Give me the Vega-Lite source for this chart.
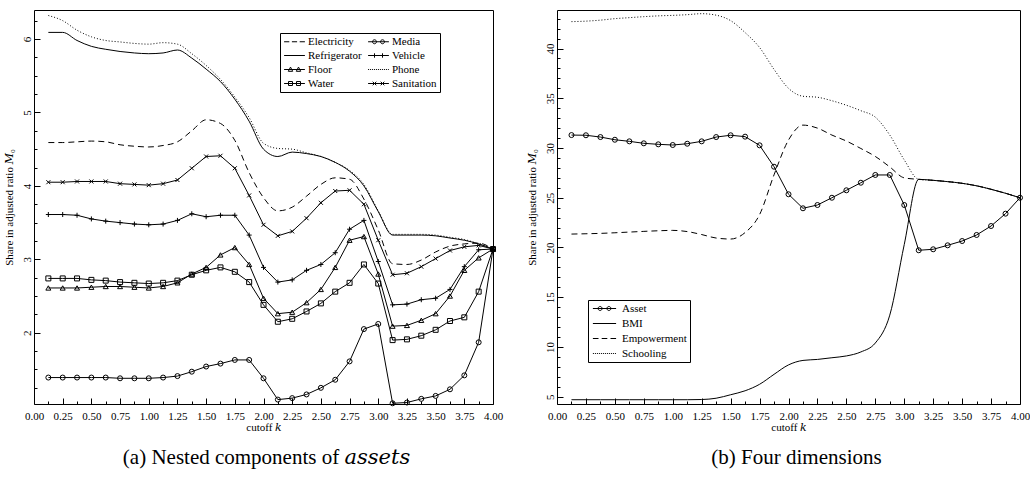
{
  "$schema": "https://vega.github.io/schema/vega-lite/v6.json",
  "background": "white",
  "padding": {"left": 2, "top": 9, "right": 0, "bottom": 5},
  "spacing": 64,
  "bounds": "flush",
  "resolve": {"scale": {"strokeDash": "independent", "shape": "independent"}},
  "config": {
    "font": "'Liberation Serif', 'Times New Roman', 'DejaVu Serif', serif",
    "view": {"stroke": "black", "strokeWidth": 1, "fill": "white"},
    "axis": {
      "domain": false, "grid": false, "ticks": true,
      "tickColor": "black", "tickWidth": 1,
      "labelFont": "'Liberation Serif', 'Times New Roman', 'DejaVu Serif', serif", "labelFontSize": 11, "labelColor": "black",
      "titleFont": "'Liberation Serif', 'Times New Roman', 'DejaVu Serif', serif", "titleFontSize": 11, "titleFontWeight": "normal", "titleColor": "black",
      "labelOverlap": false, "labelFlush": false
    },
    "legend": {
      "title": null, "orient": "none",
      "strokeColor": "black", "fillColor": "white", "padding": 3,
      "labelFont": "'Liberation Serif', 'Times New Roman', 'DejaVu Serif', serif", "labelColor": "black", "labelLimit": 0,
      "symbolSize": 64, "symbolStrokeWidth": 1, "symbolStrokeColor": "black", "symbolFillColor": "transparent"
    },
    "title": {"font": "'Liberation Serif', 'Times New Roman', 'DejaVu Serif', serif", "fontSize": 21, "fontWeight": "normal", "color": "black", "orient": "bottom", "offset": 15}
  },
  "datasets": {
    "assets": [
      {"k": 0.125, "Electricity": 4.59, "Refrigerator": 6.09, "Floor": 2.61, "Water": 2.74, "Media": 1.39, "Vehicle": 3.61, "Phone": 6.32, "Sanitation": 4.05},
      {"k": 0.25, "Electricity": 4.59, "Refrigerator": 6.09, "Floor": 2.61, "Water": 2.74, "Media": 1.39, "Vehicle": 3.61, "Phone": 6.25, "Sanitation": 4.05},
      {"k": 0.375, "Electricity": 4.60, "Refrigerator": 5.98, "Floor": 2.61, "Water": 2.74, "Media": 1.39, "Vehicle": 3.60, "Phone": 6.12, "Sanitation": 4.06},
      {"k": 0.5, "Electricity": 4.61, "Refrigerator": 5.90, "Floor": 2.62, "Water": 2.72, "Media": 1.39, "Vehicle": 3.55, "Phone": 6.03, "Sanitation": 4.06},
      {"k": 0.625, "Electricity": 4.60, "Refrigerator": 5.86, "Floor": 2.63, "Water": 2.71, "Media": 1.39, "Vehicle": 3.52, "Phone": 5.98, "Sanitation": 4.06},
      {"k": 0.75, "Electricity": 4.56, "Refrigerator": 5.83, "Floor": 2.63, "Water": 2.69, "Media": 1.38, "Vehicle": 3.50, "Phone": 5.96, "Sanitation": 4.03},
      {"k": 0.875, "Electricity": 4.54, "Refrigerator": 5.81, "Floor": 2.62, "Water": 2.68, "Media": 1.38, "Vehicle": 3.48, "Phone": 5.94, "Sanitation": 4.02},
      {"k": 1.0, "Electricity": 4.53, "Refrigerator": 5.80, "Floor": 2.61, "Water": 2.67, "Media": 1.38, "Vehicle": 3.47, "Phone": 5.93, "Sanitation": 4.01},
      {"k": 1.125, "Electricity": 4.55, "Refrigerator": 5.81, "Floor": 2.63, "Water": 2.68, "Media": 1.39, "Vehicle": 3.48, "Phone": 5.95, "Sanitation": 4.03},
      {"k": 1.25, "Electricity": 4.60, "Refrigerator": 5.85, "Floor": 2.68, "Water": 2.71, "Media": 1.41, "Vehicle": 3.53, "Phone": 5.93, "Sanitation": 4.08},
      {"k": 1.375, "Electricity": 4.75, "Refrigerator": 5.74, "Floor": 2.80, "Water": 2.79, "Media": 1.47, "Vehicle": 3.62, "Phone": 5.80, "Sanitation": 4.24},
      {"k": 1.5, "Electricity": 4.90, "Refrigerator": 5.59, "Floor": 2.89, "Water": 2.85, "Media": 1.54, "Vehicle": 3.58, "Phone": 5.64, "Sanitation": 4.40},
      {"k": 1.625, "Electricity": 4.85, "Refrigerator": 5.42, "Floor": 3.06, "Water": 2.89, "Media": 1.58, "Vehicle": 3.60, "Phone": 5.45, "Sanitation": 4.41},
      {"k": 1.75, "Electricity": 4.62, "Refrigerator": 5.18, "Floor": 3.16, "Water": 2.83, "Media": 1.63, "Vehicle": 3.60, "Phone": 5.21, "Sanitation": 4.24},
      {"k": 1.875, "Electricity": 4.18, "Refrigerator": 4.88, "Floor": 2.93, "Water": 2.69, "Media": 1.63, "Vehicle": 3.33, "Phone": 4.93, "Sanitation": 3.87},
      {"k": 2.0, "Electricity": 3.84, "Refrigerator": 4.50, "Floor": 2.47, "Water": 2.38, "Media": 1.38, "Vehicle": 2.89, "Phone": 4.58, "Sanitation": 3.47},
      {"k": 2.125, "Electricity": 3.66, "Refrigerator": 4.40, "Floor": 2.26, "Water": 2.15, "Media": 1.09, "Vehicle": 2.69, "Phone": 4.51, "Sanitation": 3.32},
      {"k": 2.25, "Electricity": 3.71, "Refrigerator": 4.46, "Floor": 2.28, "Water": 2.19, "Media": 1.11, "Vehicle": 2.72, "Phone": 4.50, "Sanitation": 3.38},
      {"k": 2.375, "Electricity": 3.86, "Refrigerator": 4.44, "Floor": 2.41, "Water": 2.29, "Media": 1.16, "Vehicle": 2.85, "Phone": 4.45, "Sanitation": 3.56},
      {"k": 2.5, "Electricity": 4.02, "Refrigerator": 4.40, "Floor": 2.59, "Water": 2.40, "Media": 1.25, "Vehicle": 2.93, "Phone": 4.40, "Sanitation": 3.77},
      {"k": 2.625, "Electricity": 4.11, "Refrigerator": 4.32, "Floor": 2.89, "Water": 2.56, "Media": 1.36, "Vehicle": 3.09, "Phone": 4.32, "Sanitation": 3.93},
      {"k": 2.75, "Electricity": 4.09, "Refrigerator": 4.20, "Floor": 3.26, "Water": 2.68, "Media": 1.61, "Vehicle": 3.41, "Phone": 4.21, "Sanitation": 3.94},
      {"k": 2.875, "Electricity": 3.82, "Refrigerator": 4.00, "Floor": 3.31, "Water": 2.93, "Media": 2.05, "Vehicle": 3.53, "Phone": 4.02, "Sanitation": 3.75},
      {"k": 3.0, "Electricity": 3.40, "Refrigerator": 3.65, "Floor": 2.80, "Water": 2.67, "Media": 2.12, "Vehicle": 2.97, "Phone": 3.66, "Sanitation": 3.26},
      {"k": 3.125, "Electricity": 2.94, "Refrigerator": 3.33, "Floor": 2.09, "Water": 1.90, "Media": 1.04, "Vehicle": 2.38, "Phone": 3.34, "Sanitation": 2.79},
      {"k": 3.25, "Electricity": 2.93, "Refrigerator": 3.33, "Floor": 2.10, "Water": 1.91, "Media": 1.05, "Vehicle": 2.39, "Phone": 3.34, "Sanitation": 2.81},
      {"k": 3.375, "Electricity": 2.99, "Refrigerator": 3.33, "Floor": 2.17, "Water": 1.96, "Media": 1.10, "Vehicle": 2.45, "Phone": 3.34, "Sanitation": 2.90},
      {"k": 3.5, "Electricity": 3.10, "Refrigerator": 3.32, "Floor": 2.26, "Water": 2.04, "Media": 1.14, "Vehicle": 2.47, "Phone": 3.33, "Sanitation": 3.01},
      {"k": 3.625, "Electricity": 3.18, "Refrigerator": 3.29, "Floor": 2.50, "Water": 2.16, "Media": 1.23, "Vehicle": 2.59, "Phone": 3.30, "Sanitation": 3.12},
      {"k": 3.75, "Electricity": 3.21, "Refrigerator": 3.26, "Floor": 2.85, "Water": 2.21, "Media": 1.42, "Vehicle": 2.90, "Phone": 3.27, "Sanitation": 3.17},
      {"k": 3.875, "Electricity": 3.22, "Refrigerator": 3.21, "Floor": 3.02, "Water": 2.56, "Media": 1.87, "Vehicle": 3.13, "Phone": 3.21, "Sanitation": 3.19},
      {"k": 4.0, "Electricity": 3.14, "Refrigerator": 3.14, "Floor": 3.14, "Water": 3.14, "Media": 3.14, "Vehicle": 3.14, "Phone": 3.14, "Sanitation": 3.14}
    ],
    "dims": [
      {"k": 0.125, "Asset": 31.3, "BMI": 4.7, "Empowerment": 21.35, "Schooling": 42.7},
      {"k": 0.25, "Asset": 31.28, "BMI": 4.7, "Empowerment": 21.38, "Schooling": 42.75},
      {"k": 0.375, "Asset": 31.1, "BMI": 4.7, "Empowerment": 21.42, "Schooling": 42.85},
      {"k": 0.5, "Asset": 30.83, "BMI": 4.7, "Empowerment": 21.48, "Schooling": 43.0},
      {"k": 0.625, "Asset": 30.67, "BMI": 4.7, "Empowerment": 21.55, "Schooling": 43.1},
      {"k": 0.75, "Asset": 30.47, "BMI": 4.7, "Empowerment": 21.62, "Schooling": 43.2},
      {"k": 0.875, "Asset": 30.37, "BMI": 4.7, "Empowerment": 21.68, "Schooling": 43.28},
      {"k": 1.0, "Asset": 30.3, "BMI": 4.7, "Empowerment": 21.72, "Schooling": 43.33},
      {"k": 1.125, "Asset": 30.43, "BMI": 4.7, "Empowerment": 21.6, "Schooling": 43.4},
      {"k": 1.25, "Asset": 30.67, "BMI": 4.72, "Empowerment": 21.3, "Schooling": 43.5},
      {"k": 1.375, "Asset": 31.1, "BMI": 4.85, "Empowerment": 20.95, "Schooling": 43.35},
      {"k": 1.5, "Asset": 31.28, "BMI": 5.2, "Empowerment": 20.85, "Schooling": 42.8},
      {"k": 1.625, "Asset": 31.14, "BMI": 5.6, "Empowerment": 21.5, "Schooling": 41.6},
      {"k": 1.75, "Asset": 30.27, "BMI": 6.25, "Empowerment": 23.3, "Schooling": 40.1},
      {"k": 1.875, "Asset": 28.12, "BMI": 7.25, "Empowerment": 27.3, "Schooling": 37.9},
      {"k": 2.0, "Asset": 25.35, "BMI": 8.2, "Empowerment": 30.8, "Schooling": 36.0},
      {"k": 2.125, "Asset": 23.94, "BMI": 8.65, "Empowerment": 32.3, "Schooling": 35.2},
      {"k": 2.25, "Asset": 24.27, "BMI": 8.75, "Empowerment": 32.0, "Schooling": 35.1},
      {"k": 2.375, "Asset": 25.0, "BMI": 8.92, "Empowerment": 31.3, "Schooling": 34.75},
      {"k": 2.5, "Asset": 25.75, "BMI": 9.1, "Empowerment": 30.7, "Schooling": 34.3},
      {"k": 2.625, "Asset": 26.51, "BMI": 9.5, "Empowerment": 29.95, "Schooling": 33.75},
      {"k": 2.75, "Asset": 27.29, "BMI": 10.4, "Empowerment": 29.15, "Schooling": 33.1},
      {"k": 2.875, "Asset": 27.29, "BMI": 13.2, "Empowerment": 28.1, "Schooling": 31.3},
      {"k": 3.0, "Asset": 24.27, "BMI": 20.3, "Empowerment": 27.0, "Schooling": 28.8},
      {"k": 3.125, "Asset": 19.72, "BMI": 26.85, "Empowerment": 26.85, "Schooling": 26.85},
      {"k": 3.25, "Asset": 19.82, "BMI": 26.75, "Empowerment": 26.75, "Schooling": 26.75},
      {"k": 3.375, "Asset": 20.22, "BMI": 26.62, "Empowerment": 26.62, "Schooling": 26.62},
      {"k": 3.5, "Asset": 20.65, "BMI": 26.45, "Empowerment": 26.45, "Schooling": 26.45},
      {"k": 3.625, "Asset": 21.26, "BMI": 26.2, "Empowerment": 26.2, "Schooling": 26.2},
      {"k": 3.75, "Asset": 22.16, "BMI": 25.85, "Empowerment": 25.85, "Schooling": 25.85},
      {"k": 3.875, "Asset": 23.4, "BMI": 25.45, "Empowerment": 25.45, "Schooling": 25.45},
      {"k": 4.0, "Asset": 25.0, "BMI": 25.0, "Empowerment": 25.0, "Schooling": 25.0}
    ]
  },
  "hconcat": [
    {
      "width": 459,
      "height": 394,
      "data": {"name": "assets"},
      "transform": [
        {"fold": ["Electricity", "Refrigerator", "Floor", "Water", "Media", "Vehicle", "Phone", "Sanitation"], "as": ["series", "value"]}
      ],
      "title": {"text": "(a) Nested components of 𝑎𝑠𝑠𝑒𝑡𝑠", "dx": 3},
      "encoding": {
        "x": {
          "field": "k", "type": "quantitative",
          "scale": {"domain": [0, 4], "nice": false, "zero": false},
          "axis": {
            "title": "cutoff 𝑘",
            "values": [0, 0.125, 0.25, 0.375, 0.5, 0.625, 0.75, 0.875, 1, 1.125, 1.25, 1.375, 1.5, 1.625, 1.75, 1.875, 2, 2.125, 2.25, 2.375, 2.5, 2.625, 2.75, 2.875, 3, 3.125, 3.25, 3.375, 3.5, 3.625, 3.75, 3.875, 4],
            "labelExpr": "datum.value % 0.25 === 0 ? format(datum.value, '.2f') : ''",
            "tickSize": {"condition": {"test": "datum.value % 0.25 === 0", "value": -6}, "value": -3},
            "labelPadding": 12, "titlePadding": -3
          }
        },
        "y": {
          "field": "value", "type": "quantitative",
          "scale": {"domain": [1.03, 6.395], "nice": false, "zero": false},
          "axis": {
            "title": "Share in adjusted ratio 𝑀₀",
            "values": [1.25, 1.5, 1.75, 2, 2.25, 2.5, 2.75, 3, 3.25, 3.5, 3.75, 4, 4.25, 4.5, 4.75, 5, 5.25, 5.5, 5.75, 6, 6.25],
            "labelExpr": "datum.value % 1 === 0 ? format(datum.value, 'd') : ''",
            "tickSize": {"condition": {"test": "datum.value % 1 === 0", "value": -6}, "value": -3},
            "labelAngle": 270, "labelAlign": "center", "labelBaseline": "bottom",
            "labelPadding": 8, "titlePadding": 4
          }
        }
      },
      "layer": [
        {
          "transform": [{"filter": {"field": "series", "oneOf": ["Floor", "Water", "Media", "Vehicle", "Sanitation"]}}],
          "mark": {"type": "line", "color": "black", "strokeWidth": 1},
          "encoding": {"detail": {"field": "series"}}
        },
        {
          "transform": [{"filter": {"field": "series", "equal": "Refrigerator"}}],
          "mark": {"type": "line", "color": "black", "strokeWidth": 1, "interpolate": "monotone"},
          "encoding": {}
        },
        {
          "transform": [{"filter": {"field": "series", "equal": "Electricity"}}],
          "mark": {"type": "line", "color": "black", "strokeWidth": 1, "interpolate": "monotone", "strokeDash": [6, 4]},
          "encoding": {}
        },
        {
          "transform": [{"filter": {"field": "series", "equal": "Phone"}}],
          "mark": {"type": "line", "color": "black", "strokeWidth": 1, "interpolate": "monotone", "strokeDash": [1, 2]},
          "encoding": {}
        },
        {
          "transform": [{"filter": {"field": "series", "oneOf": ["Floor", "Water", "Media", "Vehicle", "Sanitation"]}}],
          "mark": {"type": "point", "filled": false, "color": "black", "strokeWidth": 1, "size": 25, "opacity": 1},
          "encoding": {
            "shape": {
              "field": "series",
              "scale": {
                "domain": ["Floor", "Water", "Media", "Vehicle", "Sanitation"],
                "range": ["triangle-up", "square", "circle", "M-1,0L1,0M0,-1L0,1", "M-0.8,-0.8L0.8,0.8M-0.8,0.8L0.8,-0.8"]
              },
              "legend": null
            }
          }
        },
        {
          "transform": [{"filter": "datum.k > 4"}],
          "mark": {"type": "point", "filled": false, "color": "black", "strokeWidth": 1, "opacity": 1},
          "encoding": {
            "shape": {
              "field": "series",
              "scale": {
                "domain": ["Electricity", "Refrigerator", "Floor", "Water", "Media", "Vehicle", "Phone", "Sanitation"],
                "range": [
                  "M-2.6,0L-1.3,0M-0.65,0L0.65,0M1.3,0L2.6,0",
                  "M-2.6,0L2.6,0",
                  "M-2.6,0L2.6,0M-1.55,0.45L-1,-0.6L-0.45,0.45ZM0.45,0.45L1,-0.6L1.55,0.45Z",
                  "M-2.6,0L2.6,0M-1.5,-0.5L-0.5,-0.5L-0.5,0.5L-1.5,0.5ZM0.5,-0.5L1.5,-0.5L1.5,0.5L0.5,0.5Z",
                  "M-2.6,0L2.6,0M-1.5,0A0.5,0.5 0 1,0 -0.5,0A0.5,0.5 0 1,0 -1.5,0ZM0.5,0A0.5,0.5 0 1,0 1.5,0A0.5,0.5 0 1,0 0.5,0Z",
                  "M-2.6,0L2.6,0M-1,-0.55L-1,0.55M1,-0.55L1,0.55",
                  "M-2.6,0L-2.35,0M-2.1,0L-1.85,0M-1.6,0L-1.35,0M-1.1,0L-0.85,0M-0.6,0L-0.35,0M-0.1,0L0.15,0M0.4,0L0.65,0M0.9,0L1.15,0M1.4,0L1.65,0M1.9,0L2.15,0M2.4,0L2.6,0",
                  "M-2.6,0L2.6,0M-1.45,-0.45L-0.55,0.45M-1.45,0.45L-0.55,-0.45M0.55,-0.45L1.45,0.45M0.55,0.45L1.45,-0.45"
                ]
              },
              "legend": {
                "legendX": 246, "legendY": 23, "columns": 2, "columnPadding": 4, "rowPadding": 2,
                "labelFontSize": 11, "symbolOffset": 6, "labelOffset": 8
              }
            }
          }
        }
      ],
      "resolve": {"scale": {"shape": "independent"}}
    },
    {
      "width": 463,
      "height": 394,
      "data": {"name": "dims"},
      "transform": [
        {"fold": ["Asset", "BMI", "Empowerment", "Schooling"], "as": ["series", "value"]}
      ],
      "title": {"text": "(b) Four dimensions", "dx": 8},
      "encoding": {
        "x": {
          "field": "k", "type": "quantitative",
          "scale": {"domain": [0, 4], "nice": false, "zero": false},
          "axis": {
            "title": "cutoff 𝑘",
            "values": [0, 0.125, 0.25, 0.375, 0.5, 0.625, 0.75, 0.875, 1, 1.125, 1.25, 1.375, 1.5, 1.625, 1.75, 1.875, 2, 2.125, 2.25, 2.375, 2.5, 2.625, 2.75, 2.875, 3, 3.125, 3.25, 3.375, 3.5, 3.625, 3.75, 3.875, 4],
            "labelExpr": "datum.value % 0.25 === 0 ? format(datum.value, '.2f') : ''",
            "tickSize": {"condition": {"test": "datum.value % 0.25 === 0", "value": -6}, "value": -3},
            "labelPadding": 12, "titlePadding": -3
          }
        },
        "y": {
          "field": "value", "type": "quantitative",
          "scale": {"domain": [4.27, 43.87], "nice": false, "zero": false},
          "axis": {
            "title": "Share in adjusted ratio 𝑀₀",
            "values": [5, 6, 7, 8, 9, 10, 11, 12, 13, 14, 15, 16, 17, 18, 19, 20, 21, 22, 23, 24, 25, 26, 27, 28, 29, 30, 31, 32, 33, 34, 35, 36, 37, 38, 39, 40, 41, 42, 43],
            "labelExpr": "datum.value % 5 === 0 ? format(datum.value, 'd') : ''",
            "tickSize": {"condition": {"test": "datum.value % 5 === 0", "value": -6}, "value": -3},
            "labelAngle": 270, "labelAlign": "center", "labelBaseline": "bottom",
            "labelPadding": 8, "titlePadding": 4
          }
        }
      },
      "layer": [
        {
          "transform": [{"filter": {"field": "series", "equal": "Asset"}}],
          "mark": {"type": "line", "color": "black", "strokeWidth": 1},
          "encoding": {}
        },
        {
          "transform": [{"filter": {"field": "series", "equal": "BMI"}}],
          "mark": {"type": "line", "color": "black", "strokeWidth": 1, "interpolate": "monotone"},
          "encoding": {}
        },
        {
          "transform": [{"filter": {"field": "series", "equal": "Empowerment"}}],
          "mark": {"type": "line", "color": "black", "strokeWidth": 1, "interpolate": "monotone", "strokeDash": [6, 4]},
          "encoding": {}
        },
        {
          "transform": [{"filter": {"field": "series", "equal": "Schooling"}}],
          "mark": {"type": "line", "color": "black", "strokeWidth": 1, "interpolate": "monotone", "strokeDash": [1, 2]},
          "encoding": {}
        },
        {
          "transform": [{"filter": {"field": "series", "equal": "Asset"}}],
          "mark": {"type": "point", "filled": false, "color": "black", "strokeWidth": 1, "size": 25, "opacity": 1, "shape": "circle"},
          "encoding": {}
        },
        {
          "transform": [{"filter": "datum.k > 4"}],
          "mark": {"type": "point", "filled": false, "color": "black", "strokeWidth": 1, "opacity": 1},
          "encoding": {
            "shape": {
              "field": "series",
              "scale": {
                "domain": ["Asset", "BMI", "Empowerment", "Schooling"],
                "range": [
                  "M-2.9,0L2.9,0M-1.6,0A0.5,0.5 0 1,0 -0.6,0A0.5,0.5 0 1,0 -1.6,0ZM0.6,0A0.5,0.5 0 1,0 1.6,0A0.5,0.5 0 1,0 0.6,0Z",
                  "M-2.9,0L2.9,0",
                  "M-2.9,0L-1.5,0M-0.7,0L0.7,0M1.5,0L2.9,0",
                  "M-2.9,0L-2.65,0M-2.4,0L-2.15,0M-1.9,0L-1.65,0M-1.4,0L-1.15,0M-0.9,0L-0.65,0M-0.4,0L-0.15,0M0.1,0L0.35,0M0.6,0L0.85,0M1.1,0L1.35,0M1.6,0L1.85,0M2.1,0L2.35,0M2.6,0L2.85,0"
                ]
              },
              "legend": {
                "legendX": 31, "legendY": 290, "rowPadding": 3,
                "labelFontSize": 11, "symbolOffset": 8, "labelOffset": 12
              }
            }
          }
        }
      ],
      "resolve": {"scale": {"shape": "independent"}}
    }
  ]
}
